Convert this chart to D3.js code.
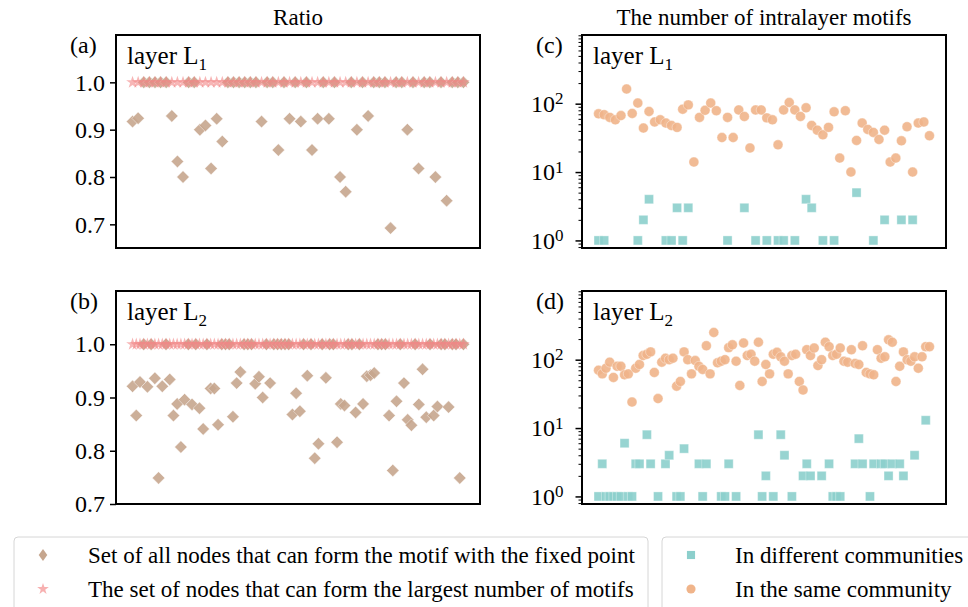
<!DOCTYPE html>
<html>
<head>
<meta charset="utf-8">
<style>
  body { margin: 0; background: #fff; }
  svg text { font-family: "Liberation Serif", "Times New Roman", serif; fill: #000; }
</style>
</head>
<body>
<svg width="968" height="607" id="fig" font-family="Liberation Serif, serif"></svg>
<script src="https://cdn.jsdelivr.net/npm/d3@7/dist/d3.min.js"></script>
<script>
// ---- layer L1 (60 nodes) ----
const ratioAllL1 = [
  .917,.924,1,1,1,1,1,.929,.833,.8,
  1,1,.9,.909,.818,.923,.875,1,1,1,
  1,1,1,.917,1,1,.857,1,.923,1,
  .917,1,.857,.923,1,.923,1,.8,.769,1,
  .9,1,.929,1,1,1,.692,1,1,.9,
  1,.818,1,1,.8,1,.75,1,1,1];
const ratioMaxL1 = [
  1,1,1,1,1,1,1,1,1,1, 1,1,1,1,1,1,1,1,1,1, 1,1,1,1,1,1,1,1,1,1,
  1,1,1,1,1,1,1,1,1,1, 1,1,1,1,1,1,1,1,1,1, 1,1,1,1,1,1,1,1,1,1];
const diffCommL1 = [
  1,1,0,0,0,0,0,1,2,4,
  0,0,1,1,3,1,3,0,0,0,
  0,0,0,1,0,0,3,0,1,0,
  1,0,1,1,0,1,0,4,3,0,
  1,0,1,0,0,0,5,0,0,1,
  0,2,0,0,2,0,2,0,0,0];
const sameCommL1 = [
  71,69,63,58,67,164,72,102,44,77,
  54,58,52,48,45,83,96,14,63,80,
  102,79,32,63,32,81,65,22.5,81,81,
  62,58,25,81,104,81,65,87,48,41,
  35,45,76,16,79,10,29,52,42,38,
  30,41,14,16,28.6,46,10,52,54,34];

// ---- layer L2 (90 nodes) ----
const ratioAllL2 = [
  .921,.866,.929,1,.920,1,.936,.749,.921,1,
  .934,.866,.888,.807,.896,1,.887,1,.880,.841,
  1,.917,.917,.849,1,1,1,.864,.927,.948,
  1,1,1,.926,.939,.900,1,.927,1,1,
  1,1,1,.868,.908,.874,1,.941,1,.786,
  .813,1,.937,1,1,.816,.888,.885,1,1,
  .872,1,.888,.940,.942,.946,1,1,1,.866,
  .763,.893,1,.927,.858,.848,1,.887,.953,.863,
  1,.866,.883,1,1,.882,1,1,.749,1];
const ratioMaxL2 = [
  1,1,1,1,1,1,1,1,1,1, 1,1,1,1,1,1,1,1,1,1, 1,1,1,1,1,1,1,1,1,1,
  1,1,1,1,1,1,1,1,1,1, 1,1,1,1,1,1,1,1,1,1, 1,1,1,1,1,1,1,1,1,1,
  1,1,1,1,1,1,1,1,1,1, 1,1,1,1,1,1,1,1,1,1, 1,1,1,1,1,1,1,1,1,1];
const diffCommL2 = [
  1,3,1,1,1,1,1,6,1,1,
  3,3,0,8,3,0,1,0,3,4,
  0,1,1,5,0,0,0,3,1,3,
  0,0,0,1,1,3,0,1,0,0,
  0,0,0,8,1,2,0,1,0,8,
  4,0,1,0,0,2,3,2,0,0,
  2,0,3,1,1,1,0,0,0,3,
  7,3,0,1,3,0,3,3,2,3,
  0,3,2,0,0,4,0,0,13,0];
const sameCommL2 = [
  70,62,75,92,55,80,80,60,62,24,
  75,85,115,120,130,65,27,92,105,100,
  105,41,48,130,100,62,97,80,72,160,
  62,250,90,95,100,150,165,95,42,175,
  115,120,95,180,48,85,62,120,128,110,
  95,62,115,120,48,36,140,115,148,82,
  100,180,155,115,120,148,95,92,140,88,
  85,160,65,62,60,140,105,110,195,180,
  48,80,130,100,95,110,75,110,155,155];

const ratioTicks = [0.7, 0.8, 0.9, 1.0];
const logTicks = [1, 10, 100];
const colTitles = ["Ratio", "The number of intralayer motifs"];
const legendLeft = ["Set of all nodes that can form the motif with the fixed point",
                    "The set of nodes that can form the largest number of motifs"];
const legendRight = ["In different communities", "In the same community"];

const C = { diamond: "#c6a68e", star: "#f28686", square: "#8ccfcc", circle: "#f0b48a" };
const svg = d3.select("#fig");

const boxA = {x0: 116, x1: 480, y0: 35, y1: 248};
const boxB = {x0: 116, x1: 480, y0: 291, y1: 504};
const boxC = {x0: 582, x1: 946, y0: 35, y1: 248};
const boxD = {x0: 582, x1: 946, y0: 291, y1: 504};

function makeX(n, box) {
  const pad = 0.05 * (n - 1);
  return d3.scaleLinear().domain([-pad, n - 1 + pad]).range([box.x0, box.x1]);
}

function frame(box, tag, layer) {
  svg.append("rect").attr("x", box.x0).attr("y", box.y0)
    .attr("width", box.x1 - box.x0).attr("height", box.y1 - box.y0)
    .attr("fill", "none").attr("stroke", "#000").attr("stroke-width", 2);
  svg.append("text").attr("x", box.x0 - 46).attr("y", box.y0 + 18)
    .attr("font-size", 24).text(tag);
  const t = svg.append("text").attr("x", box.x0 + 11).attr("y", box.y0 + 29)
    .attr("font-size", 25).text("layer L");
  t.append("tspan").attr("dy", 6).attr("font-size", 17).text(layer);
}

function styleAxis(ax) {
  ax.select(".domain").remove();
  ax.attr("font-size", 24).attr("font-family", null);
  ax.selectAll("line").attr("stroke", "#000").attr("stroke-width", 1.5);
}

function ratioPanel(box, tag, layer, allVals, maxVals, yDomain) {
  const x = makeX(allVals.length, box);
  const y = d3.scaleLinear().domain(yDomain).range([box.y1, box.y0]);
  const ax = svg.append("g").attr("transform", `translate(${box.x0},0)`)
    .call(d3.axisLeft(y).tickValues(ratioTicks).tickFormat(d3.format(".1f"))
      .tickSize(6).tickPadding(5));
  styleAxis(ax);

  svg.append("g").selectAll("path").data(allVals).join("path")
    .attr("transform", (d, i) => `translate(${x(i)},${y(d)}) rotate(45)`)
    .attr("d", d3.symbol(d3.symbolSquare, 78))
    .attr("fill", C.diamond).attr("fill-opacity", 0.9)
    .attr("stroke", "#fff").attr("stroke-opacity", 0.5).attr("stroke-width", 0.8);

  svg.append("g").selectAll("path").data(maxVals).join("path")
    .attr("transform", (d, i) => `translate(${x(i)},${y(d)})`)
    .attr("d", d3.symbol(d3.symbolStar, 50))
    .attr("fill", C.star).attr("fill-opacity", 0.6);

  frame(box, tag, layer);
}

function countPanel(box, tag, layer, diffVals, sameVals) {
  const x = makeX(sameVals.length, box);
  const y = d3.scaleLog().domain([0.775, 1010]).range([box.y1, box.y0]);
  const minor = y.ticks().filter(v => !logTicks.includes(v));
  const axMinor = svg.append("g").attr("transform", `translate(${box.x0},0)`)
    .call(d3.axisLeft(y).tickValues(minor).tickFormat("").tickSize(3.5));
  styleAxis(axMinor);
  axMinor.selectAll("line").attr("stroke-width", 1);
  const ax = svg.append("g").attr("transform", `translate(${box.x0},0)`)
    .call(d3.axisLeft(y).tickValues(logTicks).tickFormat(() => "").tickSize(6.5).tickPadding(12));
  styleAxis(ax);
  ax.selectAll(".tick text").each(function(d) {
    const t = d3.select(this).text("10");
    t.append("tspan").attr("dy", "-0.45em").attr("font-size", 17).text(Math.round(Math.log10(d)));
  });

  svg.append("g").selectAll("path")
    .data(sameVals.map((v, i) => [i, v]).filter(d => d[1] > 0)).join("path")
    .attr("transform", d => `translate(${x(d[0])},${y(d[1])})`)
    .attr("d", d3.symbol(d3.symbolCircle, 78))
    .attr("fill", C.circle).attr("fill-opacity", 0.9)
    .attr("stroke", "#fff").attr("stroke-opacity", 0.45).attr("stroke-width", 0.8);

  svg.append("g").selectAll("path")
    .data(diffVals.map((v, i) => [i, v]).filter(d => d[1] > 0)).join("path")
    .attr("transform", d => `translate(${x(d[0])},${y(d[1])})`)
    .attr("d", d3.symbol(d3.symbolSquare, 82))
    .attr("fill", C.square).attr("fill-opacity", 0.9)
    .attr("stroke", "#fff").attr("stroke-opacity", 0.45).attr("stroke-width", 0.8);

  frame(box, tag, layer);
}

ratioPanel(boxA, "(a)", "1", ratioAllL1, ratioMaxL1, [0.65, 1.1]);
ratioPanel(boxB, "(b)", "2", ratioAllL2, ratioMaxL2, [0.7, 1.1]);
countPanel(boxC, "(c)", "1", diffCommL1, sameCommL1);
countPanel(boxD, "(d)", "2", diffCommL2, sameCommL2);

// column titles
svg.append("text").attr("x", (boxA.x0 + boxA.x1) / 2).attr("y", 25)
  .attr("text-anchor", "middle").attr("font-size", 23).text(colTitles[0]);
svg.append("text").attr("x", (boxC.x0 + boxC.x1) / 2).attr("y", 25)
  .attr("text-anchor", "middle").attr("font-size", 23).text(colTitles[1]);

// legends
function legendBox(x0, w) {
  svg.append("rect").attr("x", x0).attr("y", 537).attr("width", w).attr("height", 90)
    .attr("rx", 4).attr("fill", "#fff").attr("stroke", "#d6d6d6").attr("stroke-width", 1);
}
legendBox(14, 634);
legendBox(662, 330);

const rows = [555, 589];
svg.append("path").attr("transform", `translate(43,${rows[0]}) scale(0.75,1.05) rotate(45)`)
  .attr("d", d3.symbol(d3.symbolSquare, 66)).attr("fill", C.diamond);
svg.append("path").attr("transform", `translate(43,${rows[1]})`)
  .attr("d", d3.symbol(d3.symbolStar, 42)).attr("fill", C.star).attr("fill-opacity", 0.65);
svg.append("path").attr("transform", `translate(691,${rows[0]})`)
  .attr("d", d3.symbol(d3.symbolSquare, 66)).attr("fill", C.square);
svg.append("path").attr("transform", `translate(691,${rows[1]})`)
  .attr("d", d3.symbol(d3.symbolCircle, 66)).attr("fill", C.circle);

legendLeft.forEach((s, i) => svg.append("text").attr("x", 88).attr("y", rows[i] + 8)
  .attr("font-size", 23).text(s));
legendRight.forEach((s, i) => svg.append("text").attr("x", 735).attr("y", rows[i] + 8)
  .attr("font-size", 23).text(s));
</script>
</body>
</html>
